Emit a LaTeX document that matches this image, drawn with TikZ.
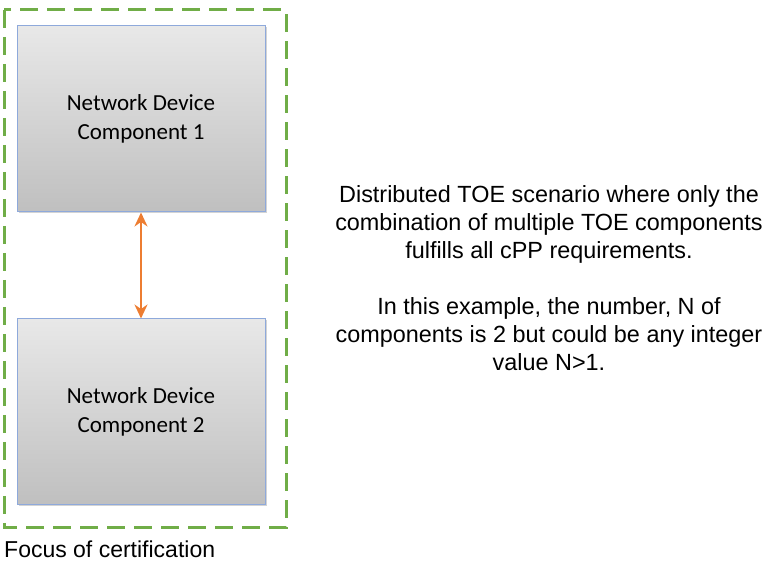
\documentclass[tikz,border=0pt]{standalone}
\usepackage{fontspec}
\setmainfont{Liberation Sans}
\newfontfamily\boxfont{Carlito}
\usetikzlibrary{arrows.meta,shadows}
\definecolor{focusgreen}{HTML}{70AD47}
\definecolor{linkorange}{HTML}{ED7D31}
\definecolor{boxedge}{HTML}{8EA9DB}
\tikzset{
  devbox/.style={draw=boxedge, line width=1pt, top color=gray!18, bottom color=gray!50,
    minimum width=248pt, minimum height=186pt, align=center, font=\boxfont\fontsize{23}{29}\selectfont,
    drop shadow={shadow xshift=1.5pt, shadow yshift=-1.5pt, opacity=0.35}},
  focusline/.style={draw=focusgreen, line width=3pt, dash pattern=on 18pt off 9pt},
  link/.style={draw=linkorange, line width=2.4pt, {Stealth[length=14pt,width=13pt]}-{Stealth[length=14pt,width=13pt]}},
  note/.style={align=center, font=\fontsize{23.4}{28}\selectfont}
}
\begin{document}
\begin{tikzpicture}[x=1pt,y=-1pt]
  \useasboundingbox (0,0) rectangle (764,561);
  \draw[focusline] (4,10) rectangle (286,528);
  \draw
    (141,119) node[devbox] (dev1){Network Device\\Component 1}
    (141,412) node[devbox] (dev2){Network Device\\Component 2}
    (4,549) node[anchor=west, inner sep=0pt, font=\fontsize{23}{26}\selectfont] (focus){Focus of certification}
    (549,278) node[note] (scenario){Distributed TOE scenario where only the\\
      combination of multiple TOE components\\
      fulfills all cPP requirements.\\[28pt]
      In this example, the number, N of\\
      components is 2 but could be any integer\\
      value N>1.};
  \begin{scope}[link]
    \draw (dev1.south) to (dev2.north);
  \end{scope}
\end{tikzpicture}
\end{document}
